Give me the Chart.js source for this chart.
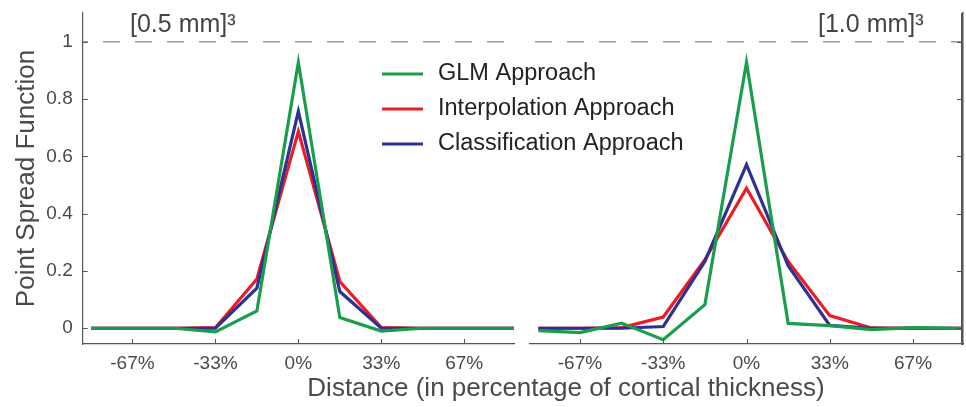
<!DOCTYPE html>
<html>
<head>
<meta charset="utf-8">
<script src="https://cdn.jsdelivr.net/npm/chart.js@4.4.1/dist/chart.umd.min.js"></script>
<style>
  body { margin: 0; background: #fff; }
  #wrap { position: relative; width: 966px; height: 407px; }
  #wrap canvas { position: absolute; left: 0; top: 0; }
</style>
</head>
<body>
<div id="wrap">
  <canvas id="left" width="966" height="407"></canvas>
  <canvas id="right" width="966" height="407"></canvas>
</div>
<script>
// distance from the cortex, % of cortical thickness (last point just carries the flat tail to the edge)
const xPos = [-83.33, -66.67, -50, -33.33, -16.67, 0, 16.67, 33.33, 50, 66.67, 83.33, 100];

// [0.5 mm]^3
const glm05    = [0, 0, 0, -0.013, 0.060, 0.928, 0.037, -0.010, 0, 0, 0, 0];
const interp05 = [0, 0, 0, 0.002, 0.172, 0.687, 0.163, 0.002, 0, 0, 0, 0];
const class05  = [0, 0, 0, 0, 0.140, 0.757, 0.128, 0, 0, 0, 0, 0];

// [1.0 mm]^3
const glm10    = [-0.008, -0.015, 0.018, -0.040, 0.082, 0.928, 0.017, 0.009, -0.005, 0.002, 0, 0];
const interp10 = [0, 0, 0.002, 0.039, 0.239, 0.489, 0.233, 0.044, 0.001, 0, 0, 0];
const class10  = [0, 0, 0, 0.006, 0.233, 0.571, 0.218, 0.010, 0, 0, 0, 0];

const seriesNames  = ['GLM Approach', 'Interpolation Approach', 'Classification Approach'];
const seriesColors = ['#1b9e4b', '#ec1c24', '#2e3192'];

const xTickVals = [-66.67, -33.33, 0, 33.33, 66.67];
const yTickVals = [0, 0.2, 0.4, 0.6, 0.8, 1];
const refY = [1, 1];

const X_MIN = -86.67, X_MAX = 86.67;
const Y_MIN = -0.055, Y_MAX = 1.1;

const FONT = "'Liberation Sans', Arial, Helvetica, sans-serif";
const AXIS_COL = '#555';

function pts(ys) {
  return ys.map((y, i) => ({ x: xPos[i], y: y }));
}

function makeDatasets(glm, interp, cls, dashOffset) {
  const base = { borderWidth: 3.2, pointRadius: 0, tension: 0, borderJoinStyle: 'miter', clip: 0 };
  return [
    Object.assign({ label: seriesNames[0], data: pts(glm), borderColor: seriesColors[0], order: 0 }, base),
    Object.assign({ label: seriesNames[2], data: pts(cls), borderColor: seriesColors[2], order: 1 }, base),
    Object.assign({ label: seriesNames[1], data: pts(interp), borderColor: seriesColors[1], order: 2 }, base),
    {
      label: 'ref', data: [{ x: X_MIN, y: refY[0] }, { x: X_MAX, y: refY[1] }],
      borderColor: '#9a9a9a', borderWidth: 1.5, borderDash: [17, 15], borderDashOffset: dashOffset,
      pointRadius: 0, order: 3, clip: 0
    }
  ];
}

// MATLAB style ticks pointing into the plot, plus the right-hand spine
const inTicks = {
  id: 'inTicks',
  afterDraw(chart, args, opts) {
    const ctx = chart.ctx, a = chart.chartArea;
    const sx = chart.scales.x, sy = chart.scales.y;
    ctx.save();
    ctx.fillStyle = AXIS_COL;
    xTickVals.forEach(v => {
      const px = Math.round(sx.getPixelForValue(v));
      ctx.fillRect(px, a.bottom - 5, 1, 5);
    });
    yTickVals.forEach(v => {
      const py = Math.round(sy.getPixelForValue(v));
      if (opts.side === 'left') ctx.fillRect(a.left, py, 5, 1);
      else ctx.fillRect(a.right - 6, py, 5, 1);
    });
    if (opts.side === 'right') {
      ctx.fillRect(Math.round(a.right) - 2, a.top, 2, a.bottom - a.top + 1);
    }
    ctx.restore();
  }
};

// panel label, shared x title and the legend
const extras = {
  id: 'extras',
  afterDraw(chart, args, opts) {
    const ctx = chart.ctx;
    ctx.save();
    ctx.fillStyle = '#444';
    ctx.font = '25px ' + FONT;
    ctx.textBaseline = 'alphabetic';
    ctx.textAlign = 'left';
    ctx.fillText(opts.title, opts.titleX, 32);

    if (opts.main) {
      ctx.font = '26px ' + FONT;
      ctx.fillStyle = '#4a4a4a';
      ctx.textAlign = 'center';
      ctx.textBaseline = 'middle';
      ctx.fillText('Distance (in percentage of cortical thickness)', 566, 389);

      ctx.font = '23.5px ' + FONT;
      ctx.fillStyle = '#222';
      ctx.textAlign = 'left';
      seriesNames.forEach((name, i) => {
        const y = 74 + i * 35;
        ctx.strokeStyle = seriesColors[i];
        ctx.lineWidth = 3;
        ctx.beginPath();
        ctx.moveTo(382, y);
        ctx.lineTo(423, y);
        ctx.stroke();
        ctx.fillText(name, 438, y);
      });
    }
    ctx.restore();
  }
};

function xScale() {
  return {
    type: 'linear', min: X_MIN, max: X_MAX,
    grid: { display: false, drawTicks: false },
    border: { display: true, color: AXIS_COL, width: 1.2 },
    afterBuildTicks: s => { s.ticks = xTickVals.map(v => ({ value: v })); },
    afterFit: s => { s.height = 63; s.paddingLeft = 0; s.paddingRight = 0; },
    ticks: {
      padding: 8, color: '#4a4a4a', font: { family: FONT, size: 19 },
      maxRotation: 0, autoSkip: false,
      callback: v => Math.round(v) + '%'
    }
  };
}

const leftCfg = {
  type: 'line',
  data: { datasets: makeDatasets(glm05, interp05, class05, 11.7) },
  options: {
    responsive: false, animation: false,
    layout: { padding: { left: 0, right: 452, top: 13, bottom: 0 } },
    plugins: {
      legend: { display: false }, tooltip: { enabled: false },
      inTicks: { side: 'left' },
      extras: { title: '[0.5 mm]\u00b3', titleX: 130, main: true }
    },
    scales: {
      x: xScale(),
      y: {
        type: 'linear', min: Y_MIN, max: Y_MAX,
        grid: { display: false, drawTicks: false },
        border: { display: true, color: AXIS_COL, width: 1.2 },
        afterBuildTicks: s => { s.ticks = yTickVals.map(v => ({ value: v })); },
        afterFit: s => { s.width = 82.7; s.paddingTop = 0; s.paddingBottom = 0; },
        ticks: {
          padding: 10, color: '#4a4a4a', font: { family: FONT, size: 19 },
          callback: v => (v === 0 || v === 1) ? String(v) : v.toFixed(1)
        },
        title: {
          display: true, text: 'Point Spread Function', color: '#4a4a4a',
          font: { family: FONT, size: 26 }, padding: { top: 11, bottom: 0 }
        }
      }
    }
  },
  plugins: [inTicks, extras]
};

const rightCfg = {
  type: 'line',
  data: { datasets: makeDatasets(glm10, interp10, class10, 27) },
  options: {
    responsive: false, animation: false,
    layout: { padding: { left: 530, right: 2, top: 13, bottom: 0 } },
    plugins: {
      legend: { display: false }, tooltip: { enabled: false },
      inTicks: { side: 'right' },
      extras: { title: '[1.0 mm]\u00b3', titleX: 818, main: false }
    },
    scales: {
      x: xScale(),
      y: {
        type: 'linear', position: 'right', min: Y_MIN, max: Y_MAX,
        grid: { display: false, drawTicks: false },
        border: { display: true, color: AXIS_COL, width: 1.5 },
        afterBuildTicks: s => { s.ticks = yTickVals.map(v => ({ value: v })); },
        afterFit: s => { s.width = 1; s.paddingTop = 0; s.paddingBottom = 0; },
        ticks: { display: false }
      }
    }
  },
  plugins: [inTicks, extras]
};

new Chart(document.getElementById('left').getContext('2d'), leftCfg);
new Chart(document.getElementById('right').getContext('2d'), rightCfg);
</script>
</body>
</html>
